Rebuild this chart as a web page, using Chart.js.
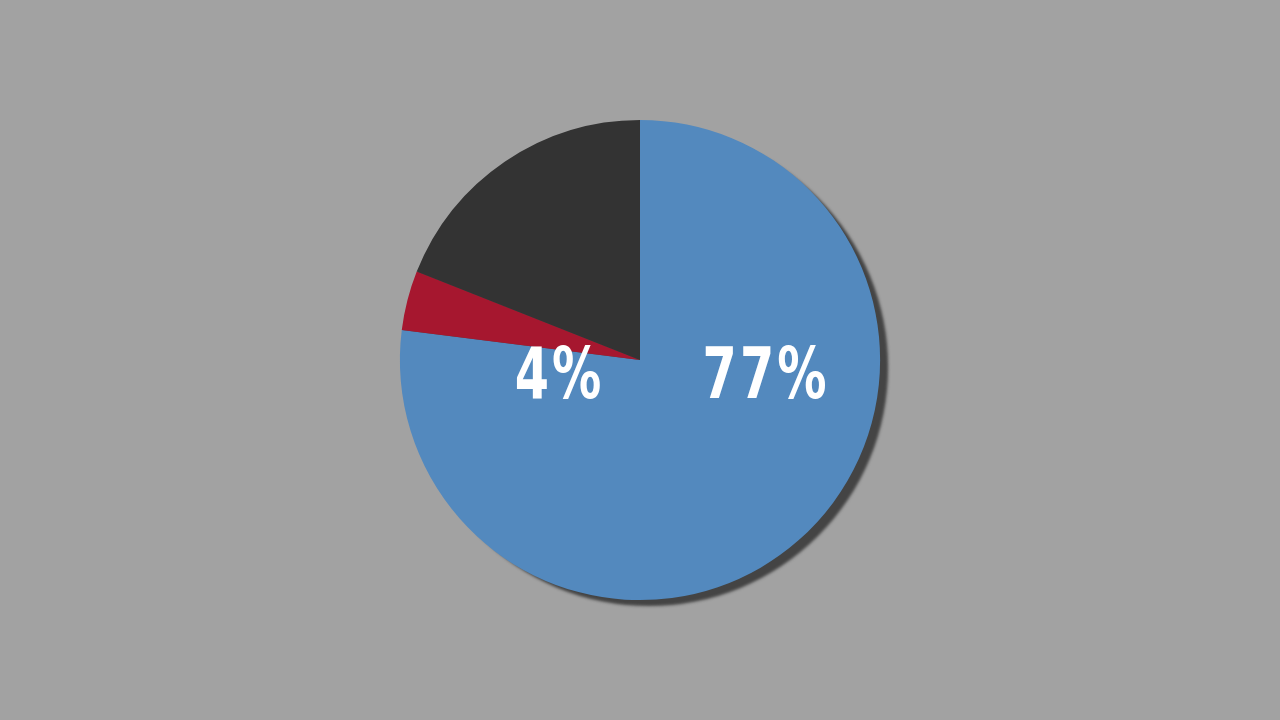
<!DOCTYPE html>
<html>
<head>
<meta charset="utf-8">
<script src="https://cdn.jsdelivr.net/npm/chart.js@4/dist/chart.umd.min.js"></script>
<style>
  html, body { margin: 0; padding: 0; background: #a2a2a2; }
  #wrap { width: 1280px; height: 720px; }
</style>
</head>
<body>
<div id="wrap"><canvas id="pie"></canvas></div>
<script>
// slice data (clockwise from 12 o'clock)
const labels = ['Blue', 'Red', 'Dark'];
const values = [77, 4, 19];
const colors = ['#5389be', '#a6172f', '#333333'];

// which slices get a percent label, and where (as fraction of radius from centre)
const labelIndex = [1, 0];
const labelOffset = [[-0.335, 0.08], [0.525, 0.08]];

// shadow of the whole disc, drawn before the slices
const discShadow = {
    id: 'discShadow',
    beforeDatasetsDraw(chart) {
        const arc = chart.getDatasetMeta(0).data[0];
        if (!arc) return;
        const ctx = chart.ctx;
        ctx.save();
        ctx.shadowColor = 'rgba(68,68,68,1)';
        ctx.shadowBlur = 3;
        ctx.shadowOffsetX = 9;
        ctx.shadowOffsetY = 7;
        ctx.fillStyle = '#4a4a4a';
        ctx.beginPath();
        ctx.arc(arc.x, arc.y, arc.outerRadius - 1, 0, Math.PI * 2);
        ctx.fill();
        ctx.restore();
    }
};

// percent labels, squeezed horizontally to mimic a condensed face
const pctLabels = {
    id: 'pctLabels',
    afterDatasetsDraw(chart) {
        const arc = chart.getDatasetMeta(0).data[0];
        const ctx = chart.ctx;
        const r = arc.outerRadius;
        const squeeze = 0.76;
        ctx.save();
        ctx.fillStyle = '#ffffff';
        ctx.font = 'bold 72px "DejaVu Sans Condensed", "DejaVu Sans", sans-serif';
        if ('letterSpacing' in ctx) ctx.letterSpacing = '4px';
        ctx.textAlign = 'center';
        ctx.textBaseline = 'middle';
        labelIndex.forEach((idx, i) => {
            const off = labelOffset[i];
            ctx.save();
            ctx.translate(arc.x + off[0] * r, arc.y + off[1] * r);
            ctx.scale(squeeze, 1);
            ctx.fillText(values[idx] + '%', 0, 0);
            ctx.restore();
        });
        ctx.restore();
    }
};

new Chart(document.getElementById('pie'), {
    type: 'pie',
    data: {
        labels: labels,
        datasets: [{
            data: values,
            backgroundColor: colors,
            borderWidth: 0
        }]
    },
    options: {
        responsive: true,
        maintainAspectRatio: false,
        animation: false,
        radius: '66.7%',
        plugins: {
            legend: { display: false },
            tooltip: { enabled: false }
        }
    },
    plugins: [discShadow, pctLabels]
});
</script>
</body>
</html>
